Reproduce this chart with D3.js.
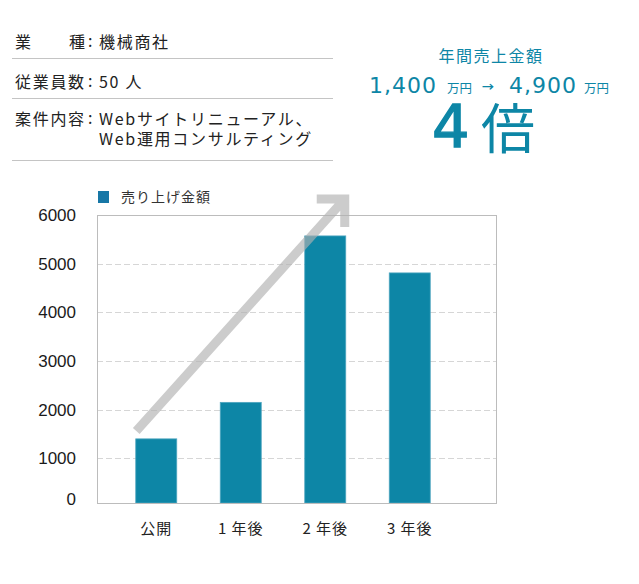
<!DOCTYPE html>
<html><head><meta charset="utf-8">
<script src="https://cdn.jsdelivr.net/npm/d3@7"></script>
<style>
html,body{margin:0;padding:0;background:#fff;}
svg{display:block;}
</style>
</head><body>
<svg id="c" width="639" height="584"></svg>
<script>
const categories = ["公開", "1 年後", "2 年後", "3 年後"];
const salesValues = [1400, 2150, 5570, 4810];
const yTicks = [0, 1000, 2000, 3000, 4000, 5000, 6000];
const seriesName = "売り上げ金額";
const infoRows = [
  {label: ["業", "種"], value: ["機械商社"]},
  {label: ["従業員数"], value: ["50 人"]},
  {label: ["案件内容"], value: ["Webサイトリニューアル、", "Web運用コンサルティング"]}
];
const headline = {title: "年間売上金額", from: "1,400", to: "4,900", unit: "万円", ratio: "4", ratioUnit: "倍"};

(function(){
const JP = "'Noto Sans CJK JP', sans-serif";
const LAT = "'Liberation Sans', 'Noto Sans CJK JP', sans-serif";
const WIDE = "'DejaVu Sans', 'Noto Sans CJK JP', sans-serif";
const TEAL = "#0d86a6";
const svg = d3.select("#c");

// ---- info table ----
const info = svg.append("g");
const rowBase = [48, 88, 125];
const rowLines = [58, 98, 160];
infoRows.forEach((r, i) => {
  if (r.label.length === 2) {
    info.append("text").attr("x", 15).attr("y", rowBase[i]).text(r.label[0]);
    info.append("text").attr("x", 69).attr("y", rowBase[i]).text(r.label[1]);
  } else {
    info.append("text").attr("x", 15).attr("y", rowBase[i]).text(r.label[0]);
  }
  info.append("text").attr("x", 88).attr("y", rowBase[i] - 1).text(":");
  r.value.forEach((v, j) => {
    info.append("text").attr("x", 99).attr("y", rowBase[i] + j * 20).text(v);
  });
});
info.selectAll("text").attr("font-family", JP).attr("font-size", 16)
  .attr("letter-spacing", "1.7px").attr("fill", "#222");
rowLines.forEach(yy => {
  info.append("line").attr("x1", 12).attr("x2", 333).attr("y1", yy + 0.5).attr("y2", yy + 0.5)
    .attr("stroke", "#c4c4c4").attr("stroke-width", 1);
});

// ---- headline ----
const hl = svg.append("g").attr("fill", TEAL);
hl.append("text").attr("x", 491).attr("y", 62).attr("text-anchor", "middle")
  .attr("font-family", JP).attr("font-size", 16).attr("letter-spacing", "1.5px").text(headline.title);
hl.append("text").attr("x", 369).attr("y", 93).attr("font-family", WIDE).attr("font-size", 22)
  .attr("letter-spacing", "1px").text(headline.from);
hl.append("text").attr("x", 447).attr("y", 93).attr("font-family", JP).attr("font-size", 12.5).text(headline.unit);
hl.append("text").attr("x", 482).attr("y", 92).attr("font-family", JP).attr("font-size", 12).attr("font-weight", "bold").text("→");
hl.append("text").attr("x", 509).attr("y", 93).attr("font-family", WIDE).attr("font-size", 22)
  .attr("letter-spacing", "1px").text(headline.to);
hl.append("text").attr("x", 584).attr("y", 93).attr("font-family", JP).attr("font-size", 12.5).text(headline.unit);
hl.append("text").attr("x", 432).attr("y", 147).attr("font-family", WIDE).attr("font-size", 59)
  .attr("stroke", TEAL).attr("stroke-width", 1.4).text(headline.ratio);
hl.append("text").attr("x", 481).attr("y", 149).attr("font-family", JP).attr("font-size", 54).text(headline.ratioUnit);

// ---- chart ----
const pLeft = 97, pRight = 496, pTop = 215, pBottom = 503;
const y = d3.scaleLinear().domain([0, 6000]).range([507, 215]);
const x = d3.scaleBand().domain(categories).range([114, 452]).paddingInner(0.515).paddingOuter(0.2575);

const g = svg.append("g");
g.selectAll("line.grid").data(yTicks.filter(t => t > 0 && t < 6000)).join("line")
  .attr("class", "grid").attr("x1", pLeft).attr("x2", pRight)
  .attr("y1", d => Math.round(y(d)) + 0.5).attr("y2", d => Math.round(y(d)) + 0.5)
  .attr("stroke", "#d6d6d6").attr("stroke-dasharray", "6,3");

g.selectAll("rect.bar").data(salesValues).join("rect")
  .attr("class", "bar")
  .attr("x", (d, i) => x(categories[i]))
  .attr("width", x.bandwidth())
  .attr("y", d => y(d))
  .attr("height", d => pBottom - y(d))
  .attr("fill", TEAL).attr("stroke", "#4ea6c0").attr("stroke-width", 0.8);

g.append("rect").attr("x", pLeft + 0.5).attr("y", pTop + 0.5).attr("width", pRight - pLeft).attr("height", pBottom - pTop)
  .attr("fill", "none").attr("stroke", "#bcbcbc").attr("stroke-width", 1);

const yAxis = g.append("g").attr("transform", `translate(${pLeft - 21},0)`)
  .call(d3.axisLeft(y).tickValues(yTicks).tickSize(0).tickPadding(0).tickFormat(d3.format("d")));
yAxis.select(".domain").remove();
yAxis.selectAll(".tick").filter(d => d === 0).attr("transform", "translate(0,500)");
yAxis.selectAll("text").attr("font-family", LAT).attr("font-size", 17).attr("fill", "#1a1a1a");

const xAxis = g.append("g").attr("transform", `translate(0,${pBottom + 20})`)
  .call(d3.axisBottom(x).tickSize(0).tickPadding(0));
xAxis.select(".domain").remove();
xAxis.selectAll("text").attr("font-family", JP).attr("font-size", 15).attr("fill", "#222")
  .attr("letter-spacing", "1px");

const ax0 = x(categories[0]) + 0.5, ay0 = y(1560);
const ax1 = x(categories[2]) + x.bandwidth() - 1, ay1 = y(6330);
g.append("path")
  .attr("d", `M${ax0},${ay0} L${ax1},${ay1} M${ax1 - 28},${ay1} L${ax1},${ay1} L${ax1},${ay1 + 28}`)
  .attr("fill", "none").attr("stroke", "rgba(176,176,176,0.65)").attr("stroke-width", 9)
  .attr("stroke-linejoin", "miter").attr("stroke-linecap", "butt");

const lg = svg.append("g");
lg.append("rect").attr("x", 98).attr("y", 191).attr("width", 11).attr("height", 12).attr("fill", "#1777a6");
lg.append("text").attr("x", 121).attr("y", 202).attr("font-family", JP).attr("font-size", 14)
  .attr("letter-spacing", "1px").attr("fill", "#333").text(seriesName);
})();
</script>
</body></html>
